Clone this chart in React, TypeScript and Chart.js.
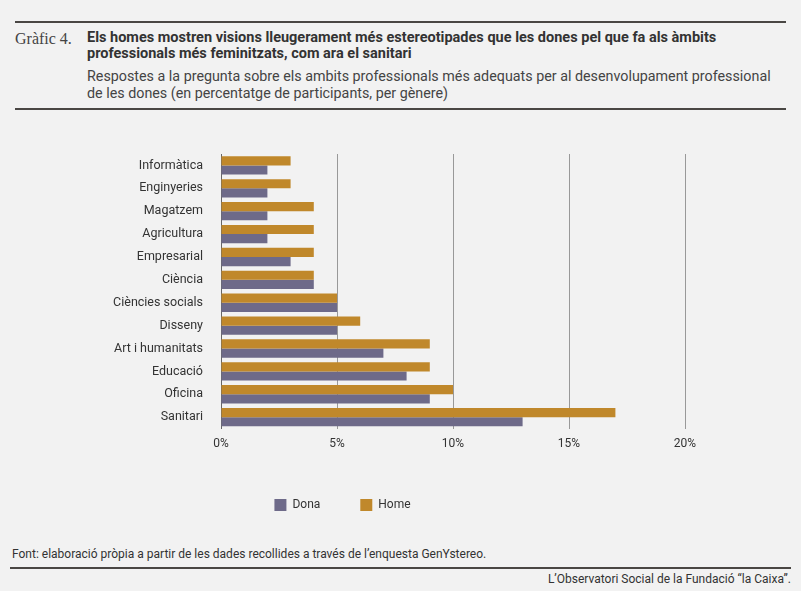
import React, { useEffect, useRef } from "react";
import { Chart, registerables } from "chart.js";
Chart.register(...registerables);

const categories = ["Informàtica","Enginyeries","Magatzem","Agricultura","Empresarial","Ciència","Ciències socials","Disseny","Art i humanitats","Educació","Oficina","Sanitari"];
const home = [3,3,4,4,4,4,5,6,9,9,10,17];
const dona = [2,2,2,2,3,4,5,5,7,8,9,13];
const xTicks = [0,5,10,15,20];

const FONT = "Roboto, 'Noto Sans', sans-serif";

export default function App() {
  const ref = useRef<HTMLCanvasElement>(null);
  useEffect(() => {
    const chart = new Chart(ref.current!, {
      type: "bar",
      data: {
        labels: categories,
        datasets: [
          { label: "Home", data: home, backgroundColor: "#c0882b", categoryPercentage: 0.8, barPercentage: 1 },
          { label: "Dona", data: dona, backgroundColor: "#6e6a89", categoryPercentage: 0.8, barPercentage: 1 },
        ],
      },
      options: {
        indexAxis: "y",
        animation: false,
        responsive: false,
        layout: { padding: { top: 34, right: 116, left: 0, bottom: 10 } },
        scales: {
          x: {
            min: 0, max: 20,
            afterBuildTicks: (s: any) => { s.ticks = xTicks.map(v => ({ value: v })); },
            ticks: { callback: (v: any) => v + "%", color: "#333", font: { family: FONT, size: 12 }, padding: 8 },
            grid: { color: (c: any) => c.tick && c.tick.value === 0 ? "#666" : "#999", drawTicks: false, lineWidth: 1 },
            border: { display: false },
          },
          y: {
            afterFit: (s: any) => { s.width = 221; },
            ticks: { color: "#333", font: { family: FONT, size: 12.5 }, padding: 10 },
            grid: { display: false },
            border: { display: false },
          },
        },
        plugins: {
          tooltip: { enabled: false },
          legend: {
            position: "bottom",
            reverse: true,
            labels: { boxWidth: 12, boxHeight: 12, padding: 40, color: "#333", font: { family: FONT, size: 12 } },
          },
        },
      },
    });
    return () => chart.destroy();
  }, []);
  const line = (top: number, left: number, right: number) => (
    <div style={{ position: "absolute", top, left, width: 801 - left - right, height: 2, background: "#4a4744" }} />
  );
  return (
    <div style={{ position: "fixed", left: 0, top: 0, width: 801, height: 591, background: "#f2f2f2", fontFamily: FONT, color: "#333" }}>
      {line(21, 15, 15)}
      <div style={{ position: "absolute", left: 15, top: 30, fontFamily: "'Liberation Serif', serif", fontSize: 16, color: "#444" }}>Gràfic 4.</div>
      <div style={{ position: "absolute", left: 87, top: 30, width: 680, fontSize: 14.5, fontWeight: 700, lineHeight: "16px", color: "#333" }}>
        Els homes mostren visions lleugerament més estereotipades que les dones pel que fa als àmbits professionals més feminitzats, com ara el sanitari
      </div>
      <div style={{ position: "absolute", left: 87, top: 68, width: 690, fontSize: 14.3, lineHeight: "17px", color: "#444" }}>
        Respostes a la pregunta sobre els ambits professionals més adequats per al desenvolupament professional de les dones (en percentatge de participants, per gènere)
      </div>
      {line(108, 15, 15)}
      <canvas ref={ref} width={801} height={411} style={{ position: "absolute", left: 0, top: 120 }} />
      <div style={{ position: "absolute", left: 12, top: 547, fontSize: 12, color: "#333" }}>Font: elaboració pròpia a partir de les dades recollides a través de l’enquesta GenYstereo.</div>
      {line(567, 10, 10)}
      <div style={{ position: "absolute", right: 10, top: 572, fontSize: 12, color: "#333" }}>L’Observatori Social de la Fundació “la Caixa”.</div>
    </div>
  );
}
